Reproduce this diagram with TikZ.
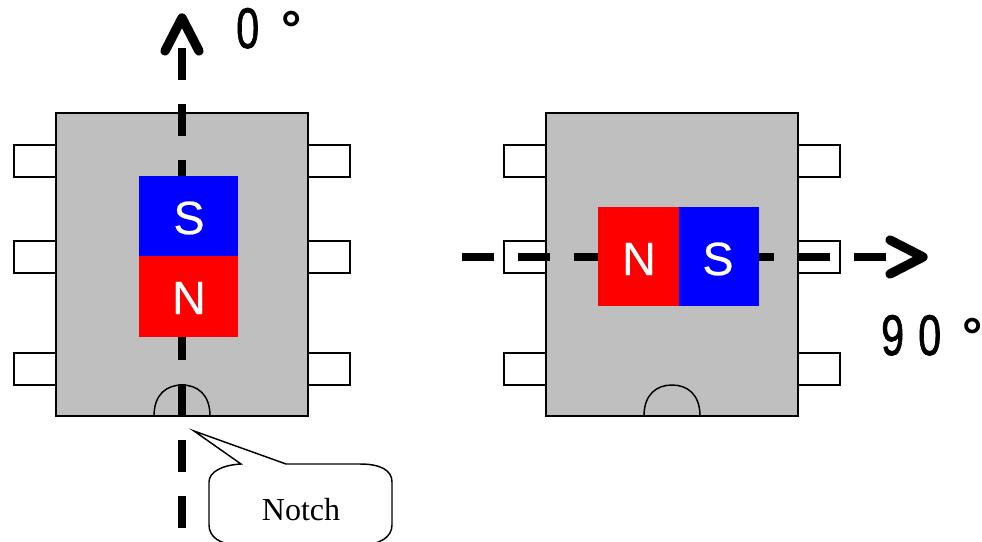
\documentclass[tikz,border=0pt]{standalone}
\usepackage{fontspec}
\setmainfont{Liberation Sans}
\newfontfamily\serifnote{Liberation Serif}
\newfontfamily\polefont[FakeBold=0.5]{Liberation Sans}
\newfontfamily\anglefont[FakeBold=1.5]{Liberation Sans}
\tikzset{
  x=0.75pt,y=-0.75pt,
  outline/.style={draw=black,line width=1.1pt},
  chipbody/.style={outline,fill=chipgray},
  pinbox/.style={outline,fill=white},
  axisline/.style={line width=6pt,dash pattern=on 24pt off 18pt},
  axishead/.style={line width=7pt,line cap=round,line join=round},
  pole/.style={text=white,font=\polefont\fontsize{35}{35}\selectfont,inner sep=0pt},
  anglelabel/.style={font=\anglefont\fontsize{43}{43}\selectfont,inner sep=0pt,xscale=0.72,anchor=base west},
  degreelabel/.style={font=\bfseries\fontsize{38}{38}\selectfont,inner sep=0pt,anchor=base west},
}
\definecolor{chipgray}{RGB}{191,191,191}
\newcommand{\chipat}[1]{%
  \begin{scope}[xshift=#1*0.75pt]
    \foreach \py in {145,241,353}{
      \draw[pinbox] (14,\py) rectangle (56,\py+32);
      \draw[pinbox] (308,\py) rectangle (350,\py+32);
    }
    \draw[chipbody] (56,113) rectangle (308,416);
    \draw[outline] (154,416) .. controls (154,394) and (167,385) .. (182,385) .. controls (197,385) and (210,394) .. (210,416);
  \end{scope}}
\begin{document}
\begin{tikzpicture}
\useasboundingbox (0,0) rectangle (982,542);
\clip (0,0) rectangle (982,542);
\chipat{0}
\chipat{490}
% axes
\coordinate (vstart) at (182,528);
\coordinate (vend) at (182,48);
\coordinate (hstart) at (462,257);
\coordinate (hend) at (886,257);
\draw[axisline] (vstart) -- (vend);
\draw[axisline] (hstart) -- (hend);
% magnets
\fill[blue] (139,176) rectangle (238,256);
\fill[red] (139,256) rectangle (238,337);
\fill[red] (598,207) rectangle (679,306);
\fill[blue] (679,207) rectangle (759,306);
\node[pole] (s1) at (189,218) {S};
\node[pole] (n1) at (189,298) {N};
\node[pole] (n2) at (639,259) {N};
\node[pole] (s2) at (718,259) {S};
% arrow heads
\draw[axishead] (165,51) -- (182,18) -- (199,51);
\draw[axishead] (890,240) -- (923,257) -- (890,274);
% labels
\node[anglelabel] (a0) at (236,48) {0};
\node[degreelabel] (a0d) at (281,47) {°};
\node[anglelabel] (a90) at (881,355) {9};
\node[anglelabel] (a90b) at (918,355) {0};
\node[degreelabel] (a90d) at (962,353) {°};
% callout
\draw[outline,fill=white] (194,431) -- (286,464) -- (360,464)
  .. controls (380,464) and (392,470) .. (392,482) -- (392,525)
  .. controls (392,537) and (380,545) .. (360,545) -- (240,545)
  .. controls (220,545) and (209,537) .. (209,525) -- (209,482)
  .. controls (209,472) and (222,465) .. (241,464) -- cycle;
\node[font=\serifnote\fontsize{24}{24}\selectfont,inner sep=0pt] (notch) at (301,510) {Notch};
\end{tikzpicture}
\end{document}
